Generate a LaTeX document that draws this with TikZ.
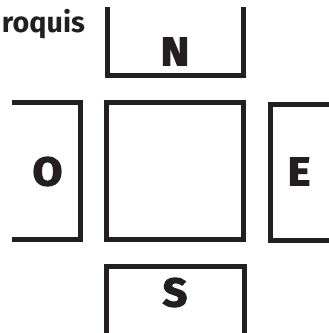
\documentclass[tikz,border=0pt]{standalone}
\usepackage{fontspec}
\setmainfont{Fira Sans}
\newfontfamily\heavyfont[BoldFeatures={FakeBold=3,FakeStretch=1.08}]{Fira Sans}
\usepackage{tikz}
\usepackage{xcolor}
\definecolor{ink}{HTML}{231F20}
\tikzset{cardinal/.style={ink,inner sep=0pt,font=\heavyfont\fontsize{30}{34}\selectfont\bfseries}}

\begin{document}
\begin{tikzpicture}[x=0.75pt,y=-0.75pt,line width=3.75pt]
    \useasboundingbox (0,0) rectangle (329,333);
    \draw [ink] (107,7)--(107,75.5)--(243.5,75.5)--(243.5,7);
    \draw [ink] (106.5,102.5) rectangle (243.5,239.5);
    \draw [ink] (12,102.5)--(80.5,102.5)--(80.5,239.5)--(12,239.5);
    \draw [ink] (329,104)--(270.5,104)--(270.5,240)--(329,240);
    \draw [ink] (106.5,333)--(106.5,266)--(244,266)--(244,333);
    \node [ink,anchor=base west,inner sep=0pt,font=\fontsize{21.5}{24}\selectfont\bfseries] (title) at (-0.5,32) {roquis};
    \node [cardinal] (N) at (175,51.5) {N};
    \node [cardinal] (O) at (47.5,171.5) {O};
    \node [cardinal] (E) at (299,171.5) {E};
    \node [cardinal] (S) at (175,292.5) {S};
\end{tikzpicture}
\end{document}
